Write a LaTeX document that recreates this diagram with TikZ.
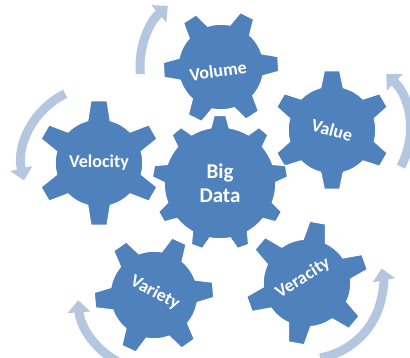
\documentclass[tikz,border=0pt]{standalone}
\usepackage{fontspec}
\setmainfont{Carlito}
\usetikzlibrary{arrows.meta}
\definecolor{gearblue}{RGB}{79,129,189}
\definecolor{arrowblue}{RGB}{180,198,224}
\tikzset{
  gearfill/.style={fill=gearblue, draw=white, line width=1.5pt},
  cyclearrow/.style={draw=arrowblue, line width=9pt, -{Triangle[width=22pt,length=12pt]}},
  geartext/.style={text=white, font=\bfseries\fontsize{18}{20}\selectfont, inner sep=0pt},
  bigtext/.style={text=white, font=\bfseries\fontsize{21}{24}\selectfont, align=center, inner sep=0pt},
}
% #1 cx, #2 cy, #3 teeth, #4 body radius, #5 tip radius, #6 rotation, #7 base half-angle, #8 tip half-angle
\newcommand{\mygear}[8]{%
  \pgfmathtruncatemacro\gearlast{#3-1}%
  \begin{scope}[shift={(#1,#2)}]
    \fill[gearfill] (#6-#7:#4)
      \foreach \i [evaluate=\i as \a using #6+\i*360/#3] in {0,...,\gearlast} {
        -- (\a-#8:#5) -- (\a+#8:#5) -- (\a+#7:#4)
        arc[start angle=\a+#7, end angle=\a+360/#3-#7, radius=#4]
      } -- cycle;
  \end{scope}}
\begin{document}
\begin{tikzpicture}[x=1pt,y=1pt]
\useasboundingbox (0,0) rectangle (410,358);
% cycle arrows
\draw[cyclearrow] (221,291) ++(185:81) arc[start angle=185, end angle=131, radius=81];
\draw[cyclearrow] (99,195) ++(116:77) arc[start angle=116, end angle=193, radius=77];
\draw[cyclearrow] (332,228) ++(-28:78) arc[start angle=-28, end angle=46, radius=78];
\draw[cyclearrow] (154,63) ++(245:76) arc[start angle=245, end angle=184, radius=76];
\draw[cyclearrow] (307,75) ++(-80:76) arc[start angle=-80, end angle=11, radius=76];
% gears
\mygear{221}{291}{6}{43}{58}{3}{15}{7.5}
\mygear{99}{195}{6}{44}{63}{90}{15}{7.5}
\mygear{332}{228}{6}{44}{60}{90}{15}{7.5}
\mygear{154}{63}{6}{44}{60}{5}{15}{7.5}
\mygear{307}{75}{6}{44}{62}{20}{15}{7.5}
\mygear{220}{175}{9}{56}{68}{90}{9.5}{5}
% labels
\node[bigtext] (bigdata) at (220,175) {Big\\Data};
\node[geartext, rotate=8] (volume) at (218,287) {Volume};
\node[geartext] (velocity) at (99,195) {Velocity};
\node[geartext, rotate=-15] (value) at (332,228) {Value};
\node[geartext, rotate=-28] (variety) at (155,65) {Variety};
\node[geartext, rotate=32] (veracity) at (303,80) {Veracity};
\end{tikzpicture}
\end{document}
